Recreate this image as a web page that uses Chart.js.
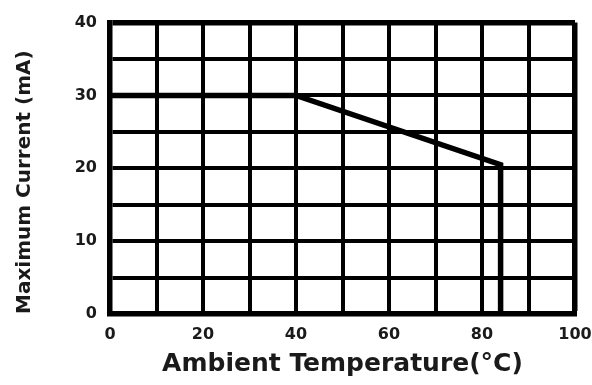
<!DOCTYPE html>
<html>
<head>
<meta charset="utf-8">
<title>Maximum Current vs Ambient Temperature</title>
<script src="https://cdn.jsdelivr.net/npm/chart.js@4/dist/chart.umd.min.js"></script>
<style>
  html, body { margin: 0; padding: 0; background: #fff; }
  canvas { display: block; }
</style>
</head>
<body>
<canvas id="myChart" width="592" height="385"></canvas>
<script>
// derating curve: flat to 40°C, slope down, then cut off
const tempC = [0, 40, 84, 84];
const currentMA = [30, 30, 20.5, 0];

// only these ticks get a label, the rest are plain grid lines
const xLabelTicks = [0, 20, 40, 60, 80, 100];
const yLabelTicks = [0, 10, 20, 30, 40];

const tickFont = { family: "DejaVu Sans", size: 16, weight: "bold" };

const ctx = document.getElementById("myChart").getContext("2d");
const myChart = new Chart(ctx, {
  type: "scatter",
  data: {
    datasets: [
      {
        data: tempC.map((t, i) => ({ x: t, y: currentMA[i] })),
        showLine: true,
        borderColor: "#000",
        borderWidth: 5.5,
        pointRadius: 0,
        tension: 0,
      },
    ],
  },
  options: {
    responsive: false,
    animation: false,
    layout: { padding: { top: 20, right: 17, left: 0, bottom: 0 } },
    plugins: { legend: { display: false }, tooltip: { enabled: false } },
    scales: {
      x: {
        type: "linear",
        min: 0,
        max: 100,
        afterFit: (scale) => {
          scale.height = 71;
          scale.paddingLeft = 0;
          scale.paddingRight = 0;
        },
        ticks: {
          stepSize: 10,
          padding: 11,
          color: "#1a1a1a",
          font: tickFont,
          maxRotation: 0,
          autoSkip: false,
          callback: (v) => (xLabelTicks.includes(v) ? v : ""),
        },
        grid: {
          color: "#000",
          lineWidth: (c) => (c.tick && c.tick.value === 100 ? 5.5 : 4),
          drawTicks: false,
        },
        border: { color: "#000", width: 5.5 },
        title: {
          display: true,
          text: "Ambient Temperature(°C)",
          color: "#1a1a1a",
          font: { family: "DejaVu Sans", size: 25, weight: "bold" },
          padding: { top: 0, bottom: 6 },
        },
      },
      y: {
        min: 0,
        max: 40,
        afterFit: (scale) => {
          scale.width = 110;
        },
        ticks: {
          stepSize: 5,
          padding: 13,
          color: "#1a1a1a",
          font: tickFont,
          autoSkip: false,
          callback: (v) => (yLabelTicks.includes(v) ? v : ""),
        },
        grid: {
          color: "#000",
          lineWidth: (c) => (c.tick && c.tick.value === 40 ? 5.5 : 4),
          drawTicks: false,
        },
        border: { color: "#000", width: 5.5 },
        title: {
          display: true,
          text: "Maximum Current (mA)",
          align: "start",
          color: "#1a1a1a",
          font: { family: "DejaVu Sans", size: 20, weight: "bold" },
          padding: { top: 13, bottom: 0 },
        },
      },
    },
  },
});
</script>
</body>
</html>
